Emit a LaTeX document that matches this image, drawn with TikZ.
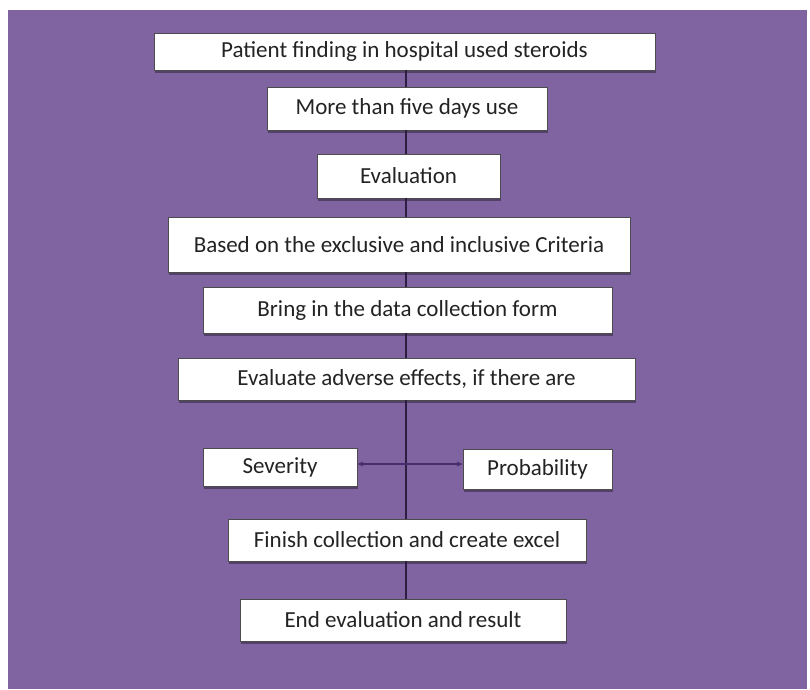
\documentclass[tikz,border=0pt]{standalone}
\usepackage{fontspec}
\setmainfont{Carlito}
\usetikzlibrary{arrows.meta,shadows}
\definecolor{bgpurple}{RGB}{128,100,162}
\definecolor{linedark}{RGB}{45,30,65}
\definecolor{arrowpurple}{RGB}{70,45,110}
\definecolor{txt}{RGB}{35,35,35}
\tikzset{
  flowbox/.style={draw=black!70, line width=0.8pt, fill=white, inner sep=0pt,
    font=\fontsize{23}{27}\selectfont, text=txt,
    drop shadow={shadow xshift=1pt, shadow yshift=-2.5pt, fill=black, opacity=0.35}},
  spine/.style={draw=linedark, line width=1.4pt},
  twoway/.style={draw=arrowpurple, line width=1.2pt, {Stealth[length=6pt,width=5pt]}-{Stealth[length=6pt,width=5pt]}}
}
\begin{document}
\begin{tikzpicture}[x=1pt,y=-1pt]
\useasboundingbox (0,0) rectangle (810,689);
\fill[white] (0,0) rectangle (810,689);
\fill[bgpurple] (8,10) rectangle (807,689);
\node[flowbox, minimum width=501pt, minimum height=37pt] (n1) at (404.5,51.5) {Patient finding in hospital used steroids};
\node[flowbox, minimum width=280pt, minimum height=43pt] (n2) at (407,108.5) {More than five days use};
\node[flowbox, minimum width=183pt, minimum height=44pt] (n3) at (408.5,176) {Evaluation};
\node[flowbox, minimum width=462pt, minimum height=55pt] (n4) at (399,244.5) {Based on the exclusive and inclusive Criteria};
\node[flowbox, minimum width=409pt, minimum height=46pt] (n5) at (407.5,310) {Bring in the data collection form};
\node[flowbox, minimum width=457pt, minimum height=42pt] (n6) at (406.5,379) {Evaluate adverse effects, if there are};
\node[flowbox, minimum width=154pt, minimum height=38pt] (sev) at (280,467) {Severity};
\node[flowbox, minimum width=149pt, minimum height=40pt] (prob) at (537.5,469) {Probability};
\node[flowbox, minimum width=358pt, minimum height=42pt] (n8) at (407,540) {Finish collection and create excel};
\node[flowbox, minimum width=326pt, minimum height=42pt] (n9) at (403,620) {End evaluation and result};
\coordinate (sx) at (406,0);
\coordinate (ay) at (0,464);
\draw[spine] (n1.south -| sx) -- (n2.north -| sx);
\draw[spine] (n2.south -| sx) -- (n3.north -| sx);
\draw[spine] (n3.south -| sx) -- (n4.north -| sx);
\draw[spine] (n4.south -| sx) -- (n5.north -| sx);
\draw[spine] (n5.south -| sx) -- (n6.north -| sx);
\draw[spine] (n6.south -| sx) -- (n8.north -| sx);
\draw[spine] (n8.south -| sx) -- (n9.north -| sx);
\draw[twoway] (sev.east |- ay) -- (prob.west |- ay);
\end{tikzpicture}
\end{document}
